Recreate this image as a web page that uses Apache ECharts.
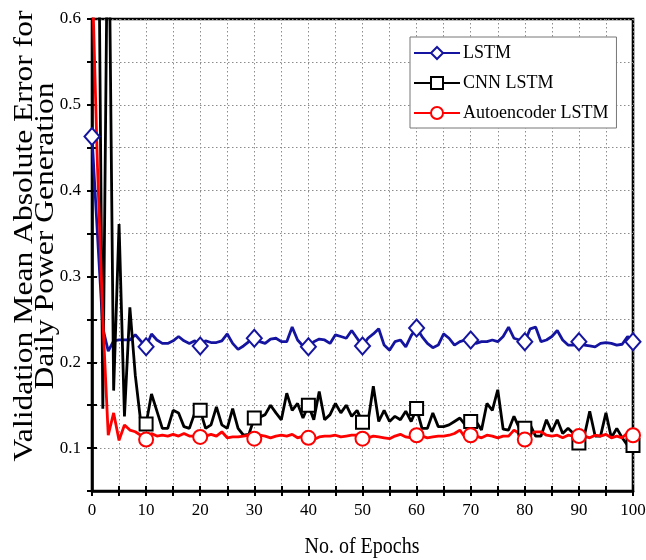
<!DOCTYPE html>
<html>
<head>
<meta charset="utf-8">
<script src="https://cdn.jsdelivr.net/npm/echarts@6/dist/echarts.min.js"></script>
<style>
  html, body { margin: 0; padding: 0; background: #fff; }
  #chart { width: 646px; height: 560px; }
</style>
</head>
<body>
<div id="chart"></div>
<script>
// Validation MAE per epoch (epochs 0..100)
const epochs = Array.from({ length: 101 }, (_, i) => i);

const lstm = [
  0.463, 0.350, 0.240, 0.213, 0.225, 0.226, 0.226, 0.226, 0.232, 0.225,
  0.218, 0.233, 0.226, 0.222, 0.222, 0.225, 0.230, 0.225, 0.222, 0.225,
  0.219, 0.225, 0.223, 0.223, 0.225, 0.233, 0.222, 0.215, 0.219, 0.224,
  0.228, 0.224, 0.222, 0.227, 0.228, 0.224, 0.224, 0.241, 0.226, 0.219,
  0.218, 0.224, 0.227, 0.226, 0.222, 0.232, 0.230, 0.228, 0.237, 0.228,
  0.219, 0.228, 0.233, 0.239, 0.220, 0.214, 0.224, 0.226, 0.218, 0.231,
  0.240, 0.230, 0.222, 0.217, 0.220, 0.233, 0.228, 0.220, 0.224, 0.226,
  0.226, 0.222, 0.224, 0.224, 0.226, 0.224, 0.230, 0.241, 0.228, 0.226,
  0.224, 0.239, 0.241, 0.224, 0.226, 0.230, 0.237, 0.226, 0.220, 0.220,
  0.224, 0.220, 0.219, 0.218, 0.222, 0.223, 0.222, 0.220, 0.221, 0.230,
  0.224
];

const cnnLstm = [
  0.950, 0.890, 0.146, 0.800, 0.167, 0.361, 0.137, 0.264, 0.185, 0.131,
  0.128, 0.163, 0.143, 0.123, 0.123, 0.144, 0.141, 0.125, 0.123, 0.141,
  0.144, 0.123, 0.127, 0.148, 0.127, 0.123, 0.146, 0.123, 0.115, 0.116,
  0.135, 0.136, 0.139, 0.150, 0.141, 0.133, 0.164, 0.144, 0.152, 0.135,
  0.150, 0.133, 0.166, 0.133, 0.139, 0.152, 0.141, 0.150, 0.137, 0.144,
  0.130, 0.130, 0.172, 0.131, 0.144, 0.131, 0.137, 0.133, 0.143, 0.131,
  0.146, 0.123, 0.123, 0.141, 0.125, 0.125, 0.127, 0.131, 0.135, 0.127,
  0.131, 0.131, 0.121, 0.152, 0.144, 0.168, 0.122, 0.121, 0.137, 0.123,
  0.123, 0.127, 0.114, 0.114, 0.133, 0.119, 0.133, 0.117, 0.123, 0.117,
  0.106, 0.114, 0.143, 0.114, 0.114, 0.141, 0.112, 0.123, 0.112, 0.103,
  0.103
];

const autoencoderLstm = [
  0.660, 0.430, 0.250, 0.115, 0.141, 0.109, 0.127, 0.121, 0.119, 0.115,
  0.110, 0.117, 0.114, 0.115, 0.114, 0.116, 0.114, 0.117, 0.114, 0.114,
  0.113, 0.114, 0.116, 0.114, 0.119, 0.112, 0.113, 0.113, 0.114, 0.115,
  0.111, 0.115, 0.114, 0.112, 0.114, 0.115, 0.114, 0.116, 0.112, 0.114,
  0.112, 0.110, 0.113, 0.114, 0.114, 0.115, 0.113, 0.114, 0.115, 0.115,
  0.111, 0.112, 0.114, 0.113, 0.112, 0.111, 0.114, 0.116, 0.113, 0.112,
  0.115, 0.114, 0.112, 0.113, 0.114, 0.114, 0.115, 0.117, 0.121, 0.112,
  0.115, 0.114, 0.112, 0.115, 0.114, 0.112, 0.114, 0.114, 0.121, 0.117,
  0.110, 0.117, 0.119, 0.119, 0.115, 0.114, 0.115, 0.112, 0.115, 0.114,
  0.114, 0.114, 0.112, 0.115, 0.114, 0.116, 0.112, 0.114, 0.112, 0.118,
  0.115
];

const seriesNames = ['LSTM', 'CNN LSTM', 'Autoencoder LSTM'];
const xTickLabels = ['0', '10', '20', '30', '40', '50', '60', '70', '80', '90', '100'];
const yTickLabels = ['0.1', '0.2', '0.3', '0.4', '0.5', '0.6'];
const xTitle = 'No. of Epochs';
const yTitle = 'Validation Mean Absolute Error for\nDaily Power Generation';

const FONT = 'Liberation Serif';
const MARK_EVERY = 10;

// markers only every tenth epoch
function toData(values) {
  return values.map((v, i) => (
    i % MARK_EVERY === 0 ? { value: [epochs[i], v] } : { value: [epochs[i], v], symbol: 'none' }
  ));
}

function lineSeries(name, values, color, symbol, size) {
  return {
    name: name,
    type: 'line',
    data: toData(values),
    symbol: symbol,
    symbolSize: size,
    showSymbol: true,
    clip: true,
    lineStyle: { color: color, width: 2.8 },
    itemStyle: { color: color, borderColor: color, borderWidth: 2.2 },
    emphasis: { disabled: true },
    z: 3
  };
}

const gridLine = { show: true, lineStyle: { color: '#8c8c8c', width: 1, type: [1.5, 2.5] } };

const xLabel = v => (xTickLabels.indexOf(String(v)) >= 0 ? String(v) : '');
const yLabel = v => {
  const s = (Math.round(v * 100) / 100).toFixed(1);
  return (Math.round(v * 100) % 10 === 0 && yTickLabels.indexOf(s) >= 0) ? s : '';
};

const axisBase = {
  axisLine: { show: true, onZero: false, lineStyle: { color: '#000', width: 2.6 } },
  splitLine: gridLine
};

const option = {
  animation: false,
  backgroundColor: '#fff',
  textStyle: { fontFamily: FONT },
  grid: {
    left: 92, right: 13, top: 19, bottom: 69,
    outerBoundsMode: 'none',
    containLabel: false,
    show: true, borderColor: '#000', borderWidth: 2.6, backgroundColor: 'transparent'
  },
  legend: {
    data: seriesNames,
    orient: 'vertical',
    left: 410,
    top: 37,
    itemWidth: 46,
    itemHeight: 15,
    itemGap: 12,
    padding: [7, 8, 6, 3],
    backgroundColor: '#fff',
    borderColor: '#777',
    borderWidth: 1,
    textStyle: { fontFamily: FONT, fontSize: 18, color: '#000', padding: [0, 0, 0, -2] }
  },
  // axis titles, slightly stretched vertically like the tall serif lettering
  graphic: [
    {
      type: 'text', x: 35, y: 236, rotation: Math.PI / 2, scaleX: 1.17,
      style: { text: yTitle, font: '27px "Liberation Serif"', lineHeight: 21, fill: '#000', align: 'center', verticalAlign: 'middle' }
    },
    {
      type: 'text', x: 362, y: 547, scaleY: 1.15,
      style: { text: xTitle, font: '20px "Liberation Serif"', fill: '#000', align: 'center', verticalAlign: 'middle' }
    }
  ],
  xAxis: [
    Object.assign({}, axisBase, {
      type: 'value', min: 0, max: 100, interval: 5,
      axisTick: { show: true, length: 5, lineStyle: { color: '#000', width: 2 } },
      axisLabel: { formatter: xLabel, fontFamily: FONT, fontSize: 17, color: '#000', margin: 11 }
    }),
    {
      type: 'value', min: 0, max: 100, interval: 5, position: 'bottom',
      axisLine: { show: false },
      axisTick: { show: true, inside: true, length: 5, lineStyle: { color: '#000', width: 2 } },
      axisLabel: { show: false }, splitLine: { show: false }
    }
  ],
  yAxis: [
    Object.assign({}, axisBase, {
      type: 'value', min: 0.05, max: 0.6, interval: 0.05,
      axisTick: { show: true, length: 5, lineStyle: { color: '#000', width: 2 } },
      axisLabel: { formatter: yLabel, fontFamily: FONT, fontSize: 17, color: '#000', margin: 11 }
    }),
    {
      type: 'value', min: 0.05, max: 0.6, interval: 0.05, position: 'left',
      axisLine: { show: false },
      axisTick: { show: true, inside: true, length: 5, lineStyle: { color: '#000', width: 2 } },
      axisLabel: { show: false }, splitLine: { show: false }
    }
  ],
  series: [
    lineSeries(seriesNames[0], lstm, '#1414a0', 'emptyDiamond', [15, 17]),
    lineSeries(seriesNames[1], cnnLstm, '#000000', 'emptyRect', 13),
    lineSeries(seriesNames[2], autoencoderLstm, '#ff0000', 'emptyCircle', 14)
  ]
};

const chart = echarts.init(document.getElementById('chart'), null, { renderer: 'canvas' });
chart.setOption(option);
</script>
</body>
</html>
